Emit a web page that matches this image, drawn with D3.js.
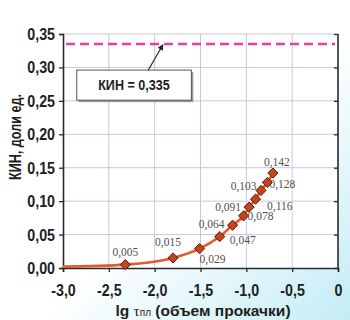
<!DOCTYPE html>
<html><head><meta charset="utf-8">
<script src="https://cdn.jsdelivr.net/npm/d3@7"></script>
<style>body{margin:0;background:#fff}svg{display:block}</style>
</head><body>
<svg id="c" width="350" height="320"></svg>
<script>
// ---- data ----
const xValues = [-2.32, -1.80, -1.51, -1.29, -1.15, -1.03, -0.97, -0.90, -0.84, -0.77, -0.71];
const kinValues = [0.005, 0.015, 0.029, 0.047, 0.064, 0.078, 0.091, 0.103, 0.116, 0.128, 0.142];
const labelTexts = ["0,005","0,015","0,029","0,047","0,064","0,078","0,091","0,103","0,116","0,128","0,142"];
const curveStart = [-3.0, 0.002];
const kinMax = 0.335;
const kinMaxLabel = "КИН = 0,335";
const xTicks = [-3.0, -2.5, -2.0, -1.5, -1.0, -0.5, 0];
const xTickLabels = ["-3,0","-2,5","-2,0","-1,5","-1,0","-0,5","0"];
const yTicks = [0, 0.05, 0.10, 0.15, 0.20, 0.25, 0.30, 0.35];
const yTickLabels = ["0,00","0,05","0,10","0,15","0,20","0,25","0,30","0,35"];
const yTitle = "КИН, доли ед.";
// label placement: [dx, dy, anchor]
const labelPlace = [[0,-9,"middle"],[-5,-12,"middle"],[0,14,"start"],[10,7,"start"],[-8,3,"end"],[4,4,"start"],[-8,4,"end"],[1,-9,"end"],[6,20,"start"],[2,6,"start"],[4,-7,"middle"]];

const svg = d3.select("#c");
const defs = svg.append("defs");
const g1 = defs.append("linearGradient").attr("id","bg").attr("x1","0").attr("y1","0").attr("x2","1").attr("y2","1");
g1.append("stop").attr("offset","0.55").attr("stop-color","#ffffff");
g1.append("stop").attr("offset","1").attr("stop-color","#c4ecf6");
svg.append("rect").attr("width",350).attr("height",320).attr("fill","url(#bg)");

const L = 63, R = 338, T = 34, B = 268;
const x = d3.scaleLinear().domain([-3, 0]).range([L, R]);
const y = d3.scaleLinear().domain([0, 0.35]).range([B, T]);

svg.append("rect").attr("x",L).attr("y",T).attr("width",R-L).attr("height",B-T).attr("fill","#fff");

const font = "'Liberation Sans',Arial,sans-serif";
const SX = 0.84; // horizontal condensing to mimic a narrow face

// grid
svg.append("g").selectAll("line").data(xTicks.slice(1,-1)).join("line")
  .attr("x1",d=>x(d)).attr("x2",d=>x(d)).attr("y1",T).attr("y2",B)
  .attr("stroke","#c9c6e0").attr("stroke-width",1);
svg.append("g").selectAll("line").data(yTicks.slice(1)).join("line")
  .attr("x1",L).attr("x2",R).attr("y1",d=>y(d)).attr("y2",d=>y(d))
  .attr("stroke","#c9c6e0").attr("stroke-width",1);

// axes
const ax = svg.append("g").attr("transform",`translate(0,${B})`)
  .call(d3.axisBottom(x).tickValues(xTicks).tickFormat((d,i)=>xTickLabels[i]).tickSize(4).tickPadding(12));
const ay = svg.append("g").attr("transform",`translate(${L},0)`)
  .call(d3.axisLeft(y).tickValues(yTicks).tickFormat((d,i)=>yTickLabels[i]).tickSize(4).tickPadding(4));
const ar = svg.append("g").attr("transform",`translate(${R},0)`)
  .call(d3.axisLeft(y).tickValues(yTicks).tickFormat("").tickSize(4).tickPadding(0));
[ax,ay,ar].forEach(a=>{
  a.select(".domain").attr("stroke","#2a2a2a").attr("stroke-width",1.6);
  a.selectAll(".tick line").attr("stroke","#2a2a2a").attr("stroke-width",1.3);
  a.selectAll("text").attr("font-family",font).attr("font-size",17).attr("font-weight","bold").attr("fill","#1e1e1e")
    .each(function(){
      const t = d3.select(this);
      const ox = +t.attr("x") || 0;
      t.attr("x", ox / SX).attr("transform", `scale(${SX},1)`);
    });
});
ar.select(".domain").attr("d",`M0,${T}V${B}`);

// axis titles
svg.append("text").attr("transform","translate(21,137) rotate(-90)")
  .attr("text-anchor","middle").attr("font-family",font).attr("font-size",17).attr("font-weight","bold")
  .attr("fill","#1e1e1e").attr("textLength",86).attr("lengthAdjust","spacingAndGlyphs").text(yTitle);
const xt = svg.append("text").attr("x",203).attr("y",316).attr("text-anchor","middle")
  .attr("font-family",font).attr("font-size",15.5).attr("font-weight","bold").attr("fill","#1e1e1e");
xt.append("tspan").text("lg ");
xt.append("tspan").attr("font-family","'Liberation Serif',serif").attr("font-weight","normal").text("τ");
xt.append("tspan").attr("font-size",10).attr("font-weight","normal").text("пл");
xt.append("tspan").text(" (объем прокачки)");

// dashed max line
svg.append("line").attr("x1",x(-3)+3).attr("x2",R-3).attr("y1",y(kinMax)).attr("y2",y(kinMax))
  .attr("stroke","#e8409a").attr("stroke-width",2.5).attr("stroke-dasharray","9,5");

// annotation box + arrow
defs.append("marker").attr("id","ah").attr("viewBox","0 0 10 10").attr("refX",9).attr("refY",5)
  .attr("markerWidth",5).attr("markerHeight",5).attr("orient","auto")
  .append("path").attr("d","M0,0L10,5L0,10z").attr("fill","#222");
svg.append("line").attr("x1",x(-2.07)).attr("y1",y(0.296)).attr("x2",x(-1.91)).attr("y2",y(0.334))
  .attr("stroke","#333").attr("stroke-width",1.2).attr("marker-end","url(#ah)");
const bx0 = x(-2.85), bx1 = x(-1.6), by0 = y(0.296), by1 = y(0.251);
svg.append("rect").attr("x",bx0+2).attr("y",by0+2).attr("width",bx1-bx0).attr("height",by1-by0).attr("fill","#9a9a9a");
svg.append("rect").attr("x",bx0).attr("y",by0).attr("width",bx1-bx0).attr("height",by1-by0)
  .attr("fill","#fff").attr("stroke","#555").attr("stroke-width",1);
svg.append("text").attr("x",((bx0+bx1)/2)/SX).attr("y",(by0+by1)/2+5).attr("text-anchor","middle")
  .attr("transform",`scale(${SX},1)`)
  .attr("font-family",font).attr("font-size",15).attr("font-weight","bold").attr("fill","#1e1e1e").text(kinMaxLabel);

// curve
const pts = [curveStart].concat(xValues.map((v,i)=>[v,kinValues[i]]));
svg.append("path").datum(pts)
  .attr("d",d3.line().x(d=>x(d[0])).y(d=>y(d[1])).curve(d3.curveMonotoneX))
  .attr("fill","none").attr("stroke","#e4582c").attr("stroke-width",2.6);

// markers
const sym = d3.symbol().type(d3.symbolDiamond2).size(66);
svg.append("g").selectAll("path").data(xValues).join("path")
  .attr("transform",(d,i)=>`translate(${x(d)},${y(kinValues[i])})`)
  .attr("d",sym).attr("fill","#c4451c").attr("stroke","#5a1e0a").attr("stroke-width",1);

// value labels
svg.append("g").selectAll("text").data(xValues).join("text")
  .attr("x",(d,i)=>x(d)+labelPlace[i][0]).attr("y",(d,i)=>y(kinValues[i])+labelPlace[i][1])
  .attr("text-anchor",(d,i)=>labelPlace[i][2])
  .attr("font-family","'Liberation Serif','Times New Roman',serif").attr("font-size",11.5).attr("fill","#505050")
  .text((d,i)=>labelTexts[i]);
</script>
</body></html>
